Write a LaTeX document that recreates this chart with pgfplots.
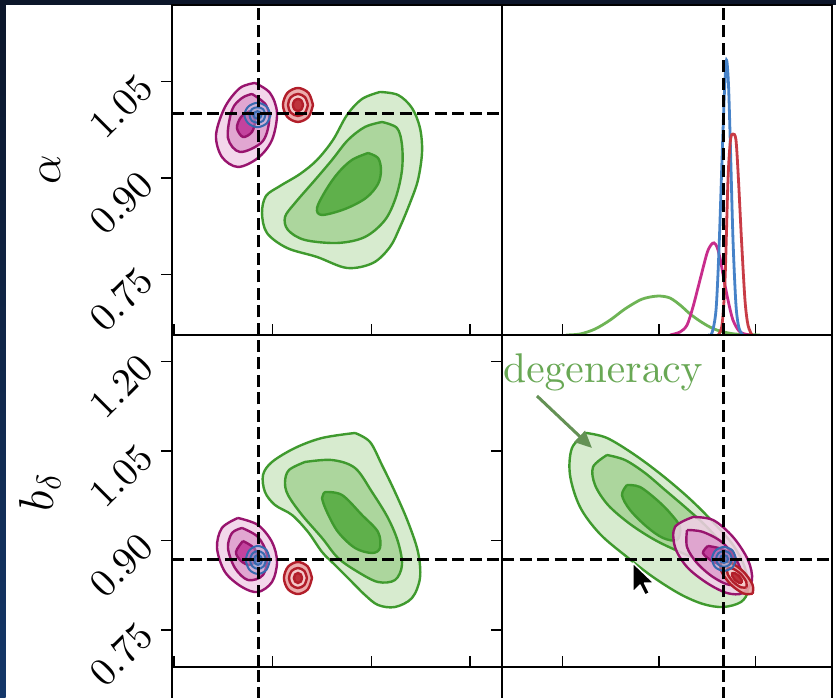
\RequirePackage{fix-cm}
\documentclass[border=0pt]{standalone}
\usepackage{pgfplots}
\pgfplotsset{compat=1.18}
\usetikzlibrary{arrows.meta}
\font\tkfont=cmr10 at 39.5pt
\font\degfont=cmr10 at 41.5pt
\definecolor{gline}{RGB}{63,154,46}
\definecolor{gfa}{RGB}{215,235,207}
\definecolor{gfb}{RGB}{172,214,157}
\definecolor{gfc}{RGB}{95,176,75}
\definecolor{mline}{RGB}{152,20,110}
\definecolor{mfa}{RGB}{242,208,232}
\definecolor{mfb}{RGB}{222,158,205}
\definecolor{mfc}{RGB}{190,50,150}
\definecolor{bline}{RGB}{55,105,175}
\definecolor{bfa}{RGB}{175,200,230}
\definecolor{bfb}{RGB}{120,160,215}
\definecolor{bfc}{RGB}{70,115,190}
\definecolor{rline}{RGB}{178,30,42}
\definecolor{rfa}{RGB}{235,165,165}
\definecolor{rfb}{RGB}{245,205,205}
\definecolor{rfc}{RGB}{185,35,45}
\definecolor{gone}{RGB}{110,180,85}
\definecolor{mone}{RGB}{200,45,140}
\definecolor{bone}{RGB}{70,130,200}
\definecolor{rone}{RGB}{200,60,70}
\definecolor{degcol}{RGB}{105,168,85}
\definecolor{arrcol}{RGB}{100,145,85}
\definecolor{scr}{RGB}{12,22,42}
\definecolor{scrb}{RGB}{20,55,105}
\pgfplotsset{
  panel/.style={scale only axis, width=330pt,
    axis line style={line width=1.5pt},
    tick style={black, line width=1.4pt},
    xtick pos=bottom, ytick pos=left,
    xtick align=inside, ytick align=outside, major tick length=11pt,
    xticklabels={}, yticklabels={},
    yticklabel style={xshift=-14.5pt, rotate=45, anchor=east, inner sep=0pt},
    clip=true},
  colA/.style={xmin=-0.020, xmax=3.323, xtick={0,1,2,3}},
  colB/.style={xmin=0.656, xmax=1.169, xtick={0.75,0.90,1.05}},
  rowA/.style={ymin=0.656, ymax=1.169, ytick={0.75,0.90,1.05}},
  rowB/.style={ymin=0.6876, ymax=1.245, ytick={0.75,0.90,1.05,1.20}},
  truth/.style={black, line width=3.5pt, dash pattern=on 12pt off 5.5pt},
  gA/.style={draw=gline, fill=gfa, line width=2.4pt, smooth, tension=0.55},
  gB/.style={draw=gline, fill=gfb, line width=2.4pt, smooth, tension=0.55},
  gC/.style={draw=gline, fill=gfc, line width=2.4pt, smooth, tension=0.55},
  mA/.style={draw=mline, fill=mfa, fill opacity=0.85, line width=2.4pt, smooth, tension=0.55},
  mB/.style={draw=mline, fill=mfb, fill opacity=0.85, line width=2.4pt, smooth, tension=0.55},
  mC/.style={draw=mline, fill=mfc, fill opacity=0.85, line width=2.4pt, smooth, tension=0.55},
  bA/.style={draw=bline, fill=bfa, fill opacity=0.35, line width=2pt, smooth, tension=0.55},
  bB/.style={draw=bline, fill=bfb, fill opacity=0.35, line width=2pt, smooth, tension=0.55},
  bC/.style={draw=bline, fill=bfc, fill opacity=0.5, line width=2pt, smooth, tension=0.55},
  rA/.style={draw=rline, fill=rfa, fill opacity=0.9, line width=2.4pt, smooth, tension=0.55},
  rB/.style={draw=rline, fill=rfb, fill opacity=0.9, line width=2.4pt, smooth, tension=0.55},
  rC/.style={draw=rline, fill=rfc, fill opacity=0.9, line width=2.4pt, smooth, tension=0.55},
  oned/.style={line width=2.8pt, smooth, tension=0.5},
}
\begin{document}
\begin{tikzpicture}
\path[use as bounding box] (0,0) rectangle (836pt,698pt);
\fill[white] (0,0) rectangle (836pt,698pt);
\shade[top color=scr, bottom color=scrb] (0,0) rectangle (5.5pt,698pt);
\fill[scr] (0,692.5pt) rectangle (836pt,698pt);

% ---------------- top-left: alpha vs column-1 parameter
\begin{axis}[panel, colA, rowA, height=330pt, at={(172pt,363pt)}, anchor=south west,
  yticklabels={\hbox{\tkfont 0.75},\hbox{\tkfont 0.90},\hbox{\tkfont 1.05}},
  ylabel={$\alpha$},
  ylabel style={font=\fontsize{47}{50}\selectfont, at={(axis description cs:-0.37,0.5)}, anchor=center}]
\addplot[gA] coordinates {(2.087,1.0338) (2.270,1.0291) (2.411,1.0089) (2.492,0.9778) (2.513,0.9405) (2.472,0.8970) (2.391,0.8612) (2.290,0.8239) (2.188,0.7928) (2.016,0.7680) (1.753,0.7602) (1.449,0.7773) (1.145,0.7913) (0.942,0.8146) (0.892,0.8457) (0.932,0.8721) (1.074,0.8876) (1.277,0.9063) (1.449,0.9281) (1.611,0.9592) (1.753,0.9980) (1.905,1.0229) (2.087,1.0338)};
\addplot[gB] coordinates {(2.107,0.9871) (2.259,0.9778) (2.310,0.9514) (2.310,0.9125) (2.249,0.8706) (2.138,0.8348) (1.935,0.8084) (1.662,0.7991) (1.327,0.8037) (1.155,0.8192) (1.125,0.8395) (1.226,0.8612) (1.429,0.8970) (1.601,0.9281) (1.763,0.9592) (1.935,0.9794) (2.107,0.9871)};
\addplot[gC] coordinates {(1.966,0.9389) (2.067,0.9312) (2.097,0.9125) (2.067,0.8908) (1.945,0.8690) (1.733,0.8519) (1.500,0.8426) (1.449,0.8534) (1.540,0.8814) (1.662,0.9079) (1.803,0.9281) (1.966,0.9389)};
\addplot[mA] coordinates {(0.821,1.0478) (0.973,1.0322) (1.044,1.0011) (0.993,0.9592) (0.851,0.9312) (0.648,0.9172) (0.486,0.9327) (0.426,0.9669) (0.517,1.0104) (0.669,1.0400) (0.821,1.0478)};
\addplot[mB] coordinates {(0.790,1.0307) (0.932,1.0136) (0.963,0.9871) (0.892,0.9560) (0.669,0.9405) (0.547,0.9623) (0.588,1.0058) (0.689,1.0244) (0.790,1.0307)};
\addplot[mC] coordinates {(0.770,1.0042) (0.821,0.9902) (0.790,0.9716) (0.699,0.9638) (0.638,0.9778) (0.679,0.9949) (0.770,1.0042)};
\addplot[rA] coordinates {(1.408,1.0136) (1.363,1.0323) (1.256,1.0400) (1.149,1.0323) (1.104,1.0136) (1.149,0.9949) (1.256,0.9872) (1.363,0.9949) (1.408,1.0136)};
\addplot[rB] coordinates {(1.357,1.0136) (1.327,1.0257) (1.256,1.0307) (1.185,1.0257) (1.155,1.0136) (1.185,1.0015) (1.256,0.9965) (1.327,1.0015) (1.357,1.0136)};
\addplot[rC] coordinates {(1.307,1.0136) (1.292,1.0202) (1.256,1.0229) (1.220,1.0202) (1.205,1.0136) (1.220,1.0070) (1.256,1.0043) (1.292,1.0070) (1.307,1.0136)};
\addplot[bA] coordinates {(0.978,0.998) (0.939,1.011) (0.846,1.017) (0.753,1.011) (0.714,0.998) (0.753,0.985) (0.846,0.979) (0.939,0.985) (0.978,0.998)};
\addplot[bB] coordinates {(0.927,0.998) (0.903,1.007) (0.846,1.010) (0.789,1.007) (0.765,0.998) (0.789,0.989) (0.846,0.986) (0.903,0.989) (0.927,0.998)};
\addplot[bC] coordinates {(0.887,0.998) (0.875,1.002) (0.846,1.004) (0.817,1.002) (0.805,0.998) (0.817,0.994) (0.846,0.992) (0.875,0.994) (0.887,0.998)};
\addplot[truth] coordinates {(0.856,0.656) (0.856,1.169)};
\addplot[truth] coordinates {(-0.020,1.0) (3.323,1.0)};
\end{axis}

% ---------------- top-right: 1D marginal of alpha
\begin{axis}[panel, colB, height=330pt, ymin=0, ymax=1, ytick=\empty, at={(502pt,363pt)}, anchor=south west]
\addplot[oned, gone] coordinates {(0.7555,0) (0.7773,0.003) (0.8006,0.018) (0.8239,0.045) (0.8472,0.079) (0.8705,0.106) (0.8861,0.115) (0.9016,0.118) (0.9172,0.112) (0.9327,0.091) (0.9482,0.064) (0.9638,0.042) (0.9793,0.024) (0.9949,0.012) (1.0182,0.003) (1.0571,0)};
\addplot[oned, mone] coordinates {(0.9172,0) (0.9327,0.009) (0.9436,0.030) (0.9529,0.085) (0.9638,0.167) (0.9747,0.248) (0.9809,0.273) (0.9856,0.279) (0.9902,0.267) (0.9949,0.233) (1.0011,0.167) (1.0073,0.106) (1.0151,0.045) (1.0260,0.009) (1.0415,0)};
\addplot[oned, bone] coordinates {(0.9762,0) (0.9824,0.006) (0.9887,0.076) (0.9933,0.258) (0.9980,0.530) (1.0019,0.742) (1.0050,0.833) (1.0081,0.758) (1.0112,0.561) (1.0151,0.288) (1.0197,0.091) (1.0244,0.021) (1.0306,0)};
\addplot[oned, rone] coordinates {(0.9918,0) (0.9980,0.030) (1.0027,0.167) (1.0073,0.470) (1.0112,0.591) (1.0151,0.609) (1.0197,0.591) (1.0236,0.470) (1.0283,0.288) (1.0337,0.106) (1.0384,0.030) (1.0446,0)};
\addplot[truth] coordinates {(1.0,0) (1.0,1)};
\end{axis}

% ---------------- bottom-left: b_delta vs column-1 parameter
\begin{axis}[panel, colA, rowB, height=332pt, at={(172pt,31pt)}, anchor=south west,
  yticklabels={\hbox{\tkfont 0.75},\hbox{\tkfont 0.90},\hbox{\tkfont 1.05},\hbox{\tkfont 1.20}},
  ylabel={$b_\delta$},
  ylabel style={font=\fontsize{49}{52}\selectfont, at={(axis description cs:-0.40,0.525)}, anchor=center}]
\addplot[gA] coordinates {(1.834,1.0805) (1.986,1.0654) (2.107,1.0267) (2.239,0.9814) (2.371,0.9310) (2.472,0.8807) (2.492,0.8370) (2.411,0.8034) (2.239,0.7883) (2.067,0.7917) (1.935,0.8085) (1.803,0.8303) (1.631,0.8589) (1.500,0.8807) (1.358,0.9143) (1.196,0.9428) (1.023,0.9596) (0.922,0.9814) (0.902,1.0100) (0.993,1.0318) (1.226,1.0553) (1.500,1.0721) (1.834,1.0805)};
\addplot[gB] coordinates {(1.327,1.0318) (1.601,1.0351) (1.834,1.0217) (2.006,0.9814) (2.168,0.9378) (2.270,0.8975) (2.310,0.8589) (2.239,0.8336) (2.067,0.8303) (1.864,0.8471) (1.662,0.8706) (1.500,0.9042) (1.297,0.9428) (1.155,0.9764) (1.125,0.9982) (1.165,1.0183) (1.327,1.0318)};
\addplot[gC] coordinates {(1.530,0.9814) (1.702,0.9764) (1.905,0.9428) (2.067,0.9143) (2.087,0.8874) (2.006,0.8790) (1.834,0.8874) (1.662,0.9143) (1.550,0.9478) (1.500,0.9714) (1.530,0.9814)};
\addplot[mA] coordinates {(0.648,0.9378) (0.851,0.9260) (0.993,0.8975) (1.044,0.8639) (0.993,0.8303) (0.851,0.8135) (0.689,0.8219) (0.517,0.8471) (0.436,0.8874) (0.486,0.9210) (0.648,0.9378)};
\addplot[mB] coordinates {(0.689,0.9210) (0.851,0.9059) (0.942,0.8756) (0.902,0.8421) (0.750,0.8336) (0.618,0.8538) (0.547,0.8874) (0.588,0.9126) (0.689,0.9210)};
\addplot[mC] coordinates {(0.699,0.8992) (0.811,0.8874) (0.841,0.8706) (0.770,0.8589) (0.679,0.8656) (0.628,0.8807) (0.699,0.8992)};
\addplot[rA] coordinates {(1.398,0.8370) (1.356,0.8560) (1.256,0.8639) (1.156,0.8560) (1.114,0.8370) (1.156,0.8180) (1.256,0.8101) (1.356,0.8180) (1.398,0.8370)};
\addplot[rB] coordinates {(1.347,0.8370) (1.320,0.8489) (1.256,0.8538) (1.192,0.8489) (1.165,0.8370) (1.192,0.8251) (1.256,0.8202) (1.320,0.8251) (1.347,0.8370)};
\addplot[rC] coordinates {(1.297,0.8370) (1.285,0.8429) (1.256,0.8454) (1.227,0.8429) (1.215,0.8370) (1.227,0.8311) (1.256,0.8286) (1.285,0.8311) (1.297,0.8370)};
\addplot[bA] coordinates {(0.973,0.8673) (0.937,0.8839) (0.851,0.8908) (0.765,0.8839) (0.729,0.8673) (0.765,0.8507) (0.851,0.8438) (0.937,0.8507) (0.973,0.8673)};
\addplot[bB] coordinates {(0.932,0.8673) (0.908,0.8780) (0.851,0.8824) (0.794,0.8780) (0.770,0.8673) (0.794,0.8566) (0.851,0.8522) (0.908,0.8566) (0.932,0.8673)};
\addplot[bC] coordinates {(0.892,0.8673) (0.880,0.8732) (0.851,0.8757) (0.822,0.8732) (0.810,0.8673) (0.822,0.8614) (0.851,0.8589) (0.880,0.8614) (0.892,0.8673)};
\addplot[truth] coordinates {(0.856,0.6876) (0.856,1.245)};
\addplot[truth] coordinates {(-0.020,0.868) (3.323,0.868)};
\end{axis}

% ---------------- bottom-right: b_delta vs alpha
\begin{axis}[panel, colB, rowB, height=332pt, at={(502pt,31pt)}, anchor=south west]
\addplot[gA] coordinates {(0.7866,1.0805) (0.8192,1.0721) (0.8627,1.0435) (0.9063,1.0083) (0.9482,0.9696) (0.9840,0.9310) (1.0151,0.8925) (1.0337,0.8538) (1.0384,0.8169) (1.0275,0.7967) (0.9995,0.7883) (0.9684,0.7934) (0.9327,0.8101) (0.8907,0.8387) (0.8503,0.8723) (0.8083,0.9109) (0.7773,0.9562) (0.7617,1.0100) (0.7648,1.0553) (0.7866,1.0805)};
\addplot[gB] coordinates {(0.8192,1.0435) (0.8472,1.0351) (0.8783,1.0133) (0.9094,0.9848) (0.9405,0.9562) (0.9715,0.9260) (0.9949,0.8975) (1.0027,0.8756) (0.9918,0.8622) (0.9638,0.8673) (0.9327,0.8807) (0.8938,0.9008) (0.8550,0.9277) (0.8208,0.9596) (0.8006,0.9932) (0.7975,1.0234) (0.8192,1.0435)};
\addplot[gC] coordinates {(0.8503,0.9932) (0.8705,0.9898) (0.8969,0.9680) (0.9172,0.9462) (0.9327,0.9227) (0.9281,0.9008) (0.9063,0.9042) (0.8814,0.9227) (0.8550,0.9512) (0.8425,0.9764) (0.8503,0.9932)};
\addplot[mA] coordinates {(0.9529,0.9394) (0.9840,0.9344) (1.0151,0.9059) (1.0384,0.8673) (1.0446,0.8336) (1.0306,0.8118) (1.0058,0.8118) (0.9747,0.8286) (0.9436,0.8555) (0.9249,0.8891) (0.9249,0.9227) (0.9529,0.9394)};
\addplot[mB] coordinates {(0.9436,0.9176) (0.9684,0.9143) (0.9995,0.8958) (1.0229,0.8622) (1.0291,0.8336) (1.0104,0.8253) (0.9840,0.8387) (0.9591,0.8622) (0.9436,0.8891) (0.9436,0.9176)};
\addplot[mC] coordinates {(0.9762,0.8908) (0.9980,0.8857) (1.0151,0.8740) (1.0182,0.8605) (1.0027,0.8572) (0.9824,0.8656) (0.9684,0.8790) (0.9762,0.8908)};
\addplot[rA] coordinates {(1.0456,0.8108) (1.0454,0.8261) (1.0312,0.8478) (1.0112,0.8630) (0.9971,0.8632) (0.9972,0.8479) (1.0114,0.8263) (1.0314,0.8110) (1.0456,0.8108)};
\addplot[rB] coordinates {(1.0359,0.8213) (1.0358,0.8305) (1.0272,0.8435) (1.0152,0.8526) (1.0068,0.8527) (1.0068,0.8435) (1.0154,0.8306) (1.0274,0.8214) (1.0359,0.8213)};
\addplot[rC] coordinates {(1.0286,0.8291) (1.0285,0.8337) (1.0243,0.8402) (1.0183,0.8448) (1.0140,0.8449) (1.0141,0.8403) (1.0183,0.8338) (1.0243,0.8292) (1.0286,0.8291)};
\addplot[bA] coordinates {(1.0198,0.8690) (1.0143,0.8832) (1.0011,0.8891) (0.9879,0.8832) (0.9824,0.8690) (0.9879,0.8548) (1.0011,0.8489) (1.0143,0.8548) (1.0198,0.8690)};
\addplot[bB] coordinates {(1.0135,0.8690) (1.0099,0.8785) (1.0011,0.8824) (0.9923,0.8785) (0.9887,0.8690) (0.9923,0.8595) (1.0011,0.8556) (1.0099,0.8595) (1.0135,0.8690)};
\addplot[bC] coordinates {(1.0073,0.8690) (1.0055,0.8737) (1.0011,0.8757) (0.9967,0.8737) (0.9949,0.8690) (0.9967,0.8643) (1.0011,0.8623) (1.0055,0.8643) (1.0073,0.8690)};
\addplot[truth] coordinates {(1.0,0.6876) (1.0,1.245)};
\addplot[truth] coordinates {(0.656,0.868) (1.169,0.868)};
\addplot[arrcol, line width=3pt, -{Triangle[length=17pt, width=15pt]}] coordinates {(0.7104,1.1426) (0.7959,1.0553)};
\node[anchor=base west, text=degcol, inner sep=0pt] at (axis cs:0.6576,1.1644) {\degfont degeneracy};
\end{axis}

% ---------------- next row (cut off by the screenshot)
\begin{scope}[overlay]
\begin{axis}[panel, colA, height=330pt, ymin=0, ymax=1, ytick=\empty, xtick=\empty, at={(172pt,31pt)}, anchor=north west]
\addplot[truth] coordinates {(0.856,0) (0.856,1)};
\end{axis}
\begin{axis}[panel, colB, height=330pt, ymin=0, ymax=1, ytick=\empty, xtick=\empty, at={(502pt,31pt)}, anchor=north west]
\addplot[truth] coordinates {(1.0,0) (1.0,1)};
\end{axis}
\end{scope}

% mouse pointer of the screen capture
\filldraw[fill=black, draw=white, line width=1.4pt, line join=round] (633pt,135pt) -- ++(0,-29pt) -- ++(7pt,7pt) -- ++(5pt,-10pt) -- ++(4.5pt,2pt) -- ++(-5pt,10pt) -- ++(9.5pt,0) -- cycle;
\end{tikzpicture}
\end{document}
